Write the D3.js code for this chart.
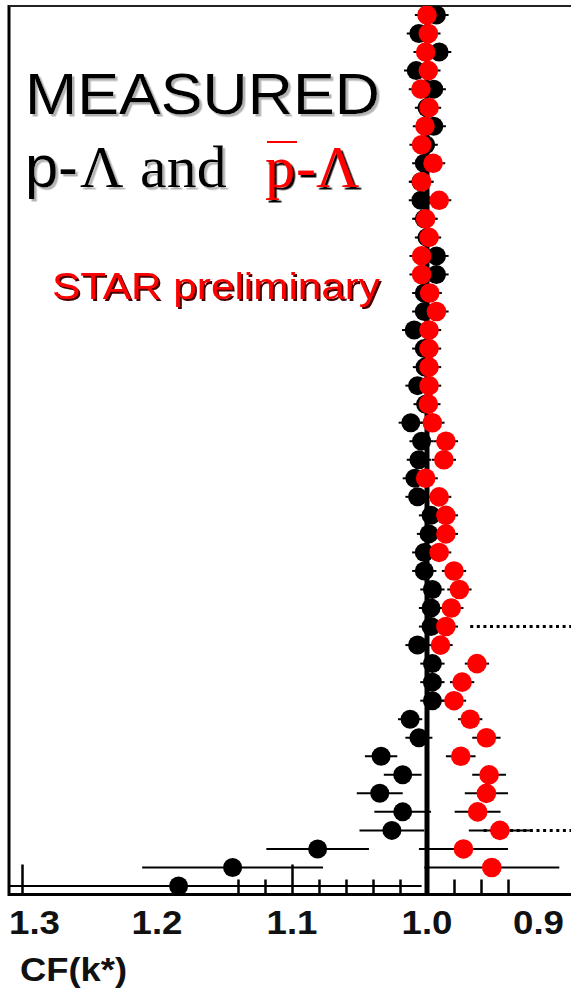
<!DOCTYPE html>
<html>
<head>
<meta charset="utf-8">
<script src="https://cdn.jsdelivr.net/npm/d3@7"></script>
<style>
  body { margin: 0; background: #fff; }
  svg { display: block; }
</style>
</head>
<body>
<svg id="svg" width="571" height="992"></svg>
<script>
// k* bins, bottom of the plot to top
const kStar = [0.005, 0.015, 0.025, 0.035, 0.045, 0.055, 0.065, 0.075, 0.085, 0.095,
  0.105, 0.115, 0.125, 0.135, 0.145, 0.155, 0.165, 0.175, 0.185, 0.195,
  0.205, 0.215, 0.225, 0.235, 0.245, 0.255, 0.265, 0.275, 0.285, 0.295,
  0.305, 0.315, 0.325, 0.335, 0.345, 0.355, 0.365, 0.375, 0.385, 0.395,
  0.405, 0.415, 0.425, 0.435, 0.445, 0.455, 0.465, 0.475];

// p-Lambda (black)
const cfPL = [1.184, 1.144, 1.081, 1.026, 1.018, 1.035, 1.018, 1.034, 1.006, 1.0125,
  0.996, 0.996, 0.996, 1.007, 0.997, 0.997, 0.996, 1.002, 1.002, 0.9985,
  0.997, 1.007, 1.009, 1.006, 1.004, 1.012, 1.001, 1.007, 1.0015, 1.002,
  1.0095, 1.002, 1.002, 0.993, 0.993, 1.000, 1.002, 1.0045, 1.0045, 1.002,
  1.001, 0.995, 1.000, 0.995, 1.008, 0.991, 1.006, 0.993];
const errPL = [0.18, 0.067, 0.038, 0.024, 0.021, 0.017, 0.014, 0.012, 0.010, 0.009,
  0.009, 0.009, 0.009, 0.009, 0.009, 0.009, 0.009, 0.009, 0.009, 0.009,
  0.009, 0.009, 0.009, 0.009, 0.009, 0.009, 0.009, 0.009, 0.009, 0.009,
  0.009, 0.009, 0.009, 0.009, 0.009, 0.009, 0.009, 0.009, 0.009, 0.009,
  0.009, 0.009, 0.009, 0.009, 0.009, 0.009, 0.009, 0.009];

// anti-p-Lambda (red); first bin is off the plot
const cfAPL = [null, 0.952, 0.973, 0.946, 0.9625, 0.956, 0.954, 0.975, 0.956, 0.968,
  0.980, 0.974, 0.963, 0.990, 0.986, 0.982, 0.976, 0.980, 0.991, 0.986,
  0.986, 0.991, 1.001, 0.9875, 0.986, 0.996, 0.999, 0.9985, 0.9985, 0.9985,
  0.9985, 0.993, 0.998, 1.004, 1.004, 0.9985, 1.001, 0.991, 1.004, 0.9955,
  1.004, 1.0015, 0.9985, 1.0045, 0.999, 1.001, 0.999, 1.000];
const errAPL = [null, 0.05, 0.033, 0.023, 0.017, 0.016, 0.0125, 0.011, 0.0105, 0.009,
  0.009, 0.009, 0.009, 0.009, 0.009, 0.009, 0.009, 0.009, 0.009, 0.009,
  0.009, 0.009, 0.009, 0.009, 0.009, 0.009, 0.009, 0.009, 0.009, 0.009,
  0.009, 0.009, 0.009, 0.009, 0.009, 0.009, 0.009, 0.009, 0.009, 0.009,
  0.009, 0.009, 0.009, 0.009, 0.009, 0.009, 0.009, 0.009];

// dotted marker lines (k*, CF where they start)
const refK = [0.035, 0.145];
const refCF = [0.958, 0.968];

// axis ticks and labels
const majorTicks = [1.3, 1.1];
const minorTicks = [1.14, 1.12, 1.08, 1.06, 1.04, 1.02, 0.98, 0.96, 0.94];
const tickLabels = ["1.3", "1.2", "1.1", "1.0", "0.9"];
const tickLabelValues = [1.3, 1.2, 1.1, 1.0, 0.9];

const svg = d3.select("#svg");
const W = 571;
const frameLeft = 9, frameTop = 6, frameBottom = 894.5;

const x = d3.scaleLinear().domain([1.3, 0.9]).range([22, 562]);
const y = d3.scaleLinear().domain([kStar[0], kStar[kStar.length - 1]]).range([886, 15]);

const defs = svg.append("defs");
defs.append("clipPath").attr("id", "plot")
  .append("rect").attr("x", frameLeft).attr("y", frameTop)
  .attr("width", W - frameLeft).attr("height", frameBottom - frameTop);

// drop shadows for the title texts
[["shGray", "#b3b3b3", 2.5], ["shDark", "#000", 2.5], ["shRed", "#400", 2]].forEach(([id, col, off]) => {
  defs.append("filter").attr("id", id)
    .attr("x", "-10%").attr("y", "-20%").attr("width", "130%").attr("height", "150%")
    .append("feDropShadow")
    .attr("dx", off).attr("dy", off).attr("stdDeviation", 0.4)
    .attr("flood-color", col).attr("flood-opacity", 1);
});

// Ticks along the bottom (pointing up).
const axisG = svg.append("g").attr("transform", `translate(0,${frameBottom})`);
axisG.append("g")
  .call(d3.axisBottom(x).tickValues(minorTicks).tickSizeInner(-15).tickSizeOuter(0).tickFormat(""))
  .call(g => g.select(".domain").remove())
  .selectAll("line").attr("stroke", "#000").attr("stroke-width", 2.5);
axisG.append("g")
  .call(d3.axisBottom(x).tickValues(majorTicks).tickSizeInner(-30).tickSizeOuter(0).tickFormat(""))
  .call(g => g.select(".domain").remove())
  .selectAll("line").attr("stroke", "#000").attr("stroke-width", 2.5);

// Tick labels
svg.append("g").selectAll("text")
  .data(tickLabels)
  .join("text")
  .attr("x", (d, i) => i === 0 ? x(tickLabelValues[i]) - 13 : i === tickLabels.length - 1 ? x(tickLabelValues[i]) + 2 : x(tickLabelValues[i]))
  .attr("y", 934)
  .attr("text-anchor", (d, i) => i === 0 ? "start" : i === tickLabels.length - 1 ? "end" : "middle")
  .attr("font-family", "Liberation Sans, Arial, sans-serif")
  .attr("font-weight", "bold")
  .attr("font-size", 33)
  .attr("textLength", 51)
  .attr("lengthAdjust", "spacingAndGlyphs")
  .attr("fill", "#111")
  .text(d => d);

svg.append("text")
  .attr("x", 20).attr("y", 981)
  .attr("font-family", "Liberation Sans, Arial, sans-serif")
  .attr("font-weight", "bold")
  .attr("font-size", 34)
  .attr("textLength", 107)
  .attr("lengthAdjust", "spacingAndGlyphs")
  .attr("fill", "#111")
  .text("CF(k*)");

// Frame
svg.append("line").attr("x1", frameLeft).attr("x2", frameLeft).attr("y1", frameTop - 1).attr("y2", frameBottom + 1.5)
  .attr("stroke", "#000").attr("stroke-width", 3);
svg.append("line").attr("x1", frameLeft).attr("x2", W).attr("y1", frameTop).attr("y2", frameTop)
  .attr("stroke", "#222").attr("stroke-width", 2);
svg.append("line").attr("x1", frameLeft).attr("x2", W).attr("y1", frameBottom).attr("y2", frameBottom)
  .attr("stroke", "#000").attr("stroke-width", 3);

// Dotted lines
svg.append("g").selectAll("line")
  .data(refK)
  .join("line")
  .attr("x1", (d, i) => x(refCF[i]))
  .attr("x2", W)
  .attr("y1", d => y(d))
  .attr("y2", d => y(d))
  .attr("stroke", "#000")
  .attr("stroke-width", 3)
  .attr("stroke-dasharray", "3 3.6");

const plot = svg.append("g").attr("clip-path", "url(#plot)");

// CF = 1 line
plot.append("line")
  .attr("x1", x(1)).attr("x2", x(1)).attr("y1", frameTop).attr("y2", frameBottom)
  .attr("stroke", "#000").attr("stroke-width", 5);

function series(cf, err) {
  const pts = kStar.map((k, i) => ({ k, cf: cf[i], e: err[i] })).filter(d => d.cf != null);
  plot.append("g").selectAll("line")
    .data(pts)
    .join("line")
    .attr("x1", d => x(d.cf + d.e))
    .attr("x2", d => x(d.cf - d.e))
    .attr("y1", d => y(d.k))
    .attr("y2", d => y(d.k))
    .attr("stroke", "#000")
    .attr("stroke-width", 2);
  return pts;
}

const black = series(cfPL, errPL);
const red = series(cfAPL, errAPL);

plot.append("g").selectAll("circle")
  .data(black)
  .join("circle")
  .attr("cx", d => x(d.cf))
  .attr("cy", d => y(d.k))
  .attr("r", 9.5)
  .attr("fill", "#000");

plot.append("g").selectAll("circle")
  .data(red)
  .join("circle")
  .attr("cx", d => x(d.cf))
  .attr("cy", d => y(d.k))
  .attr("r", 9.8)
  .attr("fill", "#f00");

// Title texts
const sans = "Liberation Sans, Arial, sans-serif";
const serif = "Liberation Serif, Times New Roman, serif";
const txt = svg.append("g");

txt.append("text")
  .attr("x", 25).attr("y", 114)
  .attr("font-family", sans)
  .attr("font-size", 58)
  .attr("textLength", 355)
  .attr("lengthAdjust", "spacingAndGlyphs")
  .attr("fill", "#000")
  .attr("filter", "url(#shGray)")
  .text("MEASURED");

const line2 = [
  { t: "p", x: 25, f: sans, c: "#000", s: "shGray" },
  { t: "-", x: 58, f: sans, c: "#000", s: "shGray" },
  { t: "\u039B", x: 80, f: serif, c: "#000", s: "shGray" },
  { t: "and", x: 140, f: serif, c: "#000", s: "shGray" },
  { t: "p", x: 265, f: serif, c: "#f00", s: "shDark" },
  { t: "-", x: 296, f: serif, c: "#f00", s: "shDark" },
  { t: "\u039B", x: 316, f: serif, c: "#f00", s: "shDark" }
];
txt.selectAll(".l2")
  .data(line2)
  .join("text")
  .attr("class", "l2")
  .attr("x", d => d.x)
  .attr("y", 187)
  .attr("font-size", 60)
  .attr("font-family", d => d.f)
  .attr("fill", d => d.c)
  .attr("filter", d => `url(#${d.s})`)
  .text(d => d.t);

// bar over the anti-proton p
txt.append("rect").attr("x", 267).attr("y", 141).attr("width", 30).attr("height", 2)
  .attr("fill", "#f00");

txt.append("text")
  .attr("x", 52).attr("y", 299)
  .attr("font-family", sans)
  .attr("font-size", 36)
  .attr("textLength", 328)
  .attr("lengthAdjust", "spacingAndGlyphs")
  .attr("fill", "#f00")
  .attr("filter", "url(#shRed)")
  .text("STAR preliminary");
</script>
</body>
</html>
